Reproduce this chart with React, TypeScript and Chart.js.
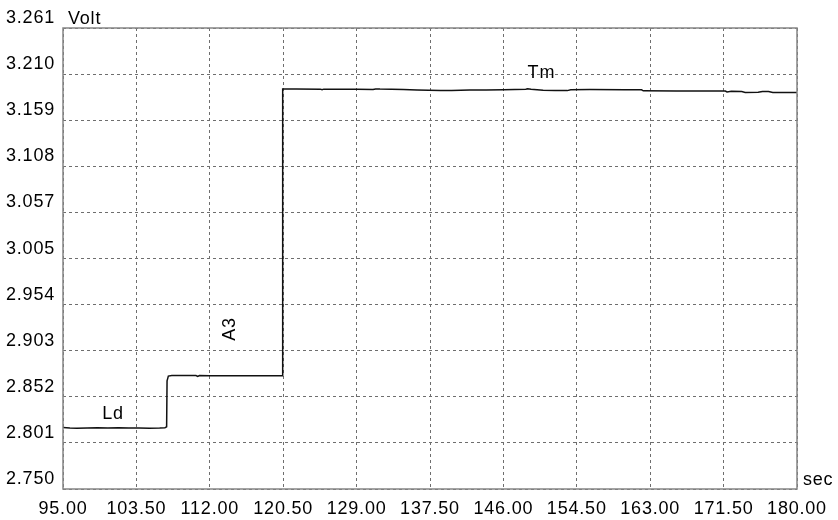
import { useEffect, useRef } from "react";
import { Chart, registerables } from "chart.js";

Chart.register(...registerables);

// Recorded trace: time (s) and measured voltage (V)
const times = [
  95.0, 95.8, 96.6, 97.8, 99.0, 100.2, 101.4, 102.6, 103.8, 105.0, 106.2, 106.8,
  107.0, 107.05, 107.2, 107.6, 109.0, 110.4, 110.6, 110.8, 112.0, 114.0, 116.0, 118.0, 120.4,
  120.44, 122.0, 124.8, 125.0, 125.2, 127.0, 129.0, 130.9, 131.2, 131.7, 134.4, 136.0,
  138.7, 140.0, 142.1, 144.0, 146.0, 148.6, 148.8, 149.2, 150.6, 152.0, 153.4, 153.8,
  156.0, 160.0, 162.0, 162.2, 166.0, 170.0, 171.7, 171.9, 172.4, 173.6, 174.0, 175.5,
  176.0, 176.7, 177.2, 180.0,
];
const volts = [
  2.8182, 2.8176, 2.8173, 2.8176, 2.8178, 2.8175, 2.8178, 2.8176, 2.8177, 2.8174, 2.8175, 2.8178,
  2.819, 2.87, 2.8752, 2.8758, 2.8757, 2.8757, 2.8748, 2.8757, 2.8756, 2.8756, 2.8756, 2.8756, 2.8756,
  3.1934, 3.1934, 3.1932, 3.1925, 3.1932, 3.1931, 3.193, 3.1929, 3.1935, 3.1933, 3.1928, 3.1922,
  3.1917, 3.1916, 3.1922, 3.1924, 3.1925, 3.1931, 3.1937, 3.193, 3.1921, 3.1916, 3.1916, 3.1926,
  3.1927, 3.1926, 3.1925, 3.1914, 3.1913, 3.1913, 3.1912, 3.1902, 3.1908, 3.1905, 3.1896, 3.1897,
  3.1905, 3.1906, 3.1895, 3.1894,
];

// Axis ticks
const xTicks = [95, 103.5, 112, 120.5, 129, 137.5, 146, 154.5, 163, 171.5, 180];
const yTicks = [2.75, 2.801, 2.852, 2.903, 2.954, 3.005, 3.057, 3.108, 3.159, 3.21, 3.261];

// Phase labels placed in data coordinates
const noteTexts = ["Ld", "A3", "Tm"];
const noteTimes = [100.8, 114.3, 150.4];
const noteVolts = [2.8331, 2.9273, 3.2115];
const noteAngles = [0, -90, 0];

const yUnit = "Volt";
const xUnit = "sec";

const FONT_FAMILY = "'Liberation Sans', Arial, sans-serif";
const FONT_SIZE = 18;
const LETTER_SPACING = "0.8px";

const frameAndText = {
  id: "frameAndText",
  beforeDraw(chart: any) {
    chart.ctx.letterSpacing = LETTER_SPACING;
  },
  afterDraw(chart: any) {
    const { ctx, chartArea, scales } = chart;
    ctx.save();
    ctx.letterSpacing = LETTER_SPACING;
    // plot frame
    ctx.strokeStyle = "#858585";
    ctx.lineWidth = 1.5;
    ctx.setLineDash([]);
    ctx.strokeRect(
      chartArea.left,
      chartArea.top,
      chartArea.right - chartArea.left,
      chartArea.bottom - chartArea.top
    );

    ctx.fillStyle = "#000";
    ctx.font = `${FONT_SIZE}px ${FONT_FAMILY}`;

    // unit labels
    ctx.textAlign = "left";
    ctx.textBaseline = "alphabetic";
    ctx.fillText(yUnit, chartArea.left + 5, chartArea.top - 4);
    ctx.fillText(xUnit, chartArea.right + 6, chartArea.bottom - 4);

    // phase labels
    ctx.textAlign = "center";
    ctx.textBaseline = "middle";
    noteTexts.forEach((txt, i) => {
      const px = scales.x.getPixelForValue(noteTimes[i]);
      const py = scales.y.getPixelForValue(noteVolts[i]);
      ctx.save();
      ctx.translate(px, py);
      ctx.rotate((noteAngles[i] * Math.PI) / 180);
      ctx.fillText(txt, 0, 0);
      ctx.restore();
    });
    ctx.restore();
  },
};

export default function App() {
  const canvasRef = useRef<HTMLCanvasElement | null>(null);

  useEffect(() => {
    document.body.style.margin = "0";
    const canvas = canvasRef.current;
    if (!canvas) return;
    const font = { family: FONT_FAMILY, size: FONT_SIZE };
    const chart = new Chart(canvas, {
      type: "line",
      data: {
        datasets: [
          {
            data: times.map((t, i) => ({ x: t, y: volts[i] })),
            borderColor: "#111111",
            borderWidth: 1.5,
            pointRadius: 0,
            tension: 0,
            fill: false,
          },
        ],
      },
      options: {
        animation: false,
        responsive: false,
        devicePixelRatio: 1,
        layout: { padding: { top: 28, right: 41, bottom: 0, left: 0 } },
        plugins: {
          legend: { display: false },
          tooltip: { enabled: false },
        },
        scales: {
          x: {
            type: "linear",
            min: 95,
            max: 180,
            afterBuildTicks: (s: any) => {
              s.ticks = xTicks.map((v) => ({ value: v }));
            },
            afterFit: (s: any) => {
              s.height = 31;
            },
            ticks: {
              autoSkip: false,
              maxRotation: 0,
              minRotation: 0,
              padding: 9,
              color: "#000",
              font,
              callback: (v: any) => Number(v).toFixed(2),
            },
            grid: { color: "#6e6e6e", lineWidth: 1, drawTicks: false },
            border: { display: false, dash: [3, 3] },
          },
          y: {
            type: "linear",
            min: 2.75,
            max: 3.261,
            afterBuildTicks: (s: any) => {
              s.ticks = yTicks.map((v) => ({ value: v }));
            },
            afterFit: (s: any) => {
              s.width = 63;
            },
            ticks: {
              autoSkip: false,
              padding: 8,
              labelOffset: -10,
              color: "#000",
              font,
              callback: (v: any) => Number(v).toFixed(3),
            },
            grid: { color: "#6e6e6e", lineWidth: 1, drawTicks: false },
            border: { display: false, dash: [3, 3] },
          },
        },
      },
      plugins: [frameAndText],
    } as any);
    return () => chart.destroy();
  }, []);

  return (
    <div
      style={{
        position: "fixed",
        left: 0,
        top: 0,
        width: 838,
        height: 520,
        background: "#fff",
      }}
    >
      <canvas ref={canvasRef} width={838} height={520} style={{ width: 838, height: 520 }} />
    </div>
  );
}
